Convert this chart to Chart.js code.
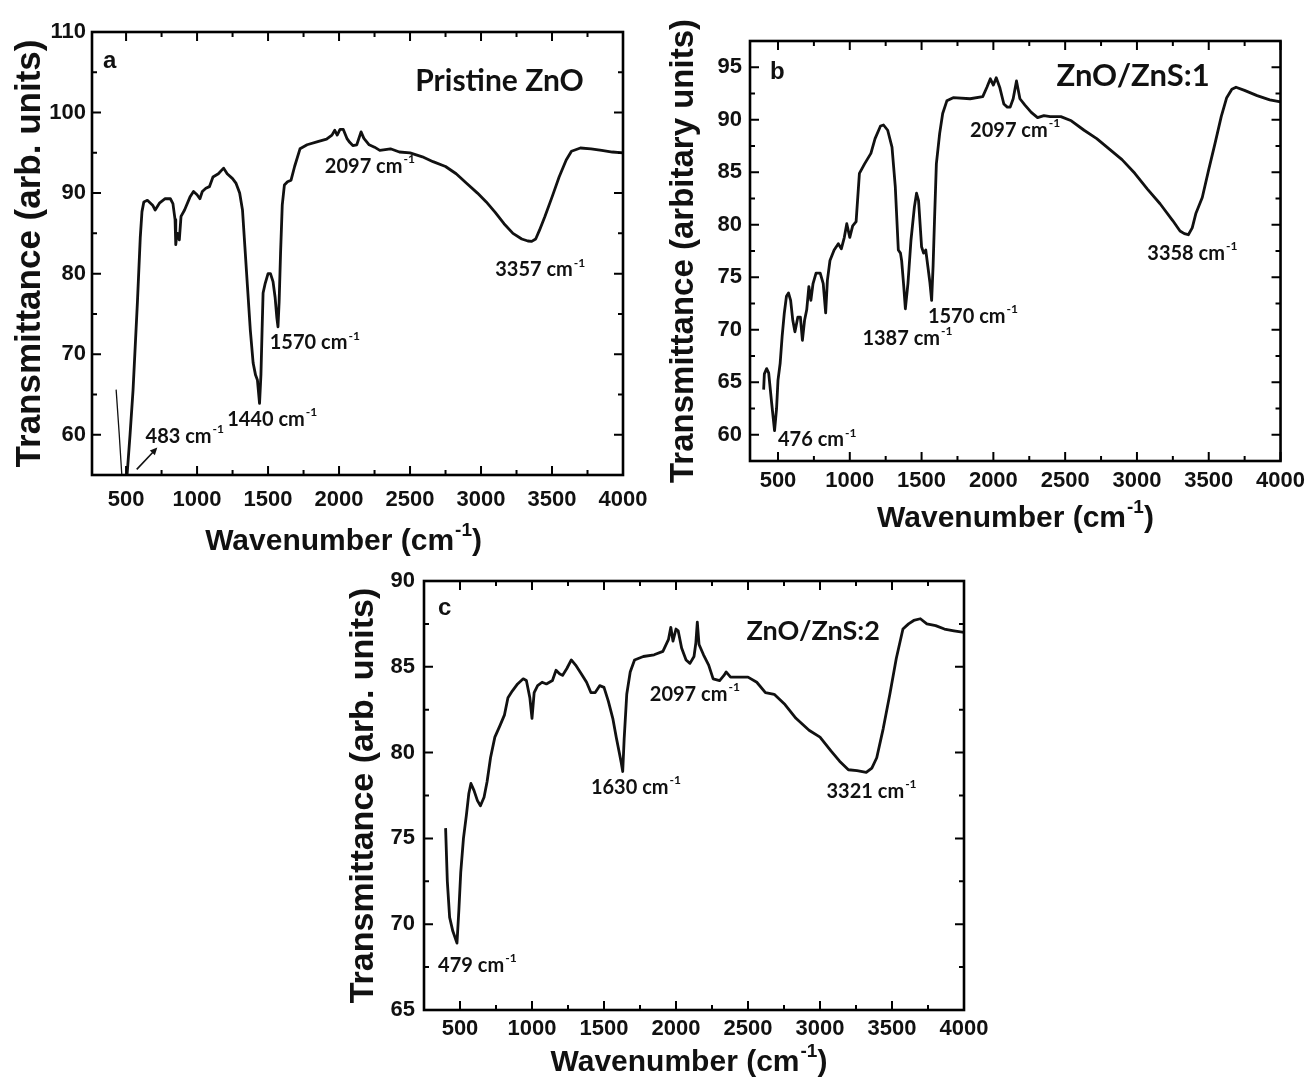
<!DOCTYPE html>
<html>
<head>
<meta charset="utf-8">
<title>FTIR spectra</title>
<script src="https://cdn.jsdelivr.net/npm/chart.js@4.4.1/dist/chart.umd.min.js"></script>
<style>
  html, body { margin: 0; padding: 0; background: #fff; }
  #figure { position: relative; width: 1312px; height: 1082px; overflow: hidden; background: #fff; }
  .panel { position: absolute; }
</style>
</head>
<body>
<div id="figure">
  <div class="panel" style="left:0px;top:0px;width:660px;height:560px"><canvas id="chartA"></canvas></div>
  <div class="panel" style="left:650px;top:0px;width:662px;height:540px"><canvas id="chartB"></canvas></div>
  <div class="panel" style="left:330px;top:550px;width:680px;height:532px"><canvas id="chartC"></canvas></div>
</div>
<script>
// ---- data ----
const X_TICKS = [500, 1000, 1500, 2000, 2500, 3000, 3500, 4000];
const A_Y_TICKS = [60, 70, 80, 90, 100, 110];
const B_Y_TICKS = [60, 65, 70, 75, 80, 85, 90, 95];
const C_Y_TICKS = [65, 70, 75, 80, 85, 90];

// (a) pristine ZnO
const A_WAVENUMBER = [
  430, 452, 470, 483, 497, 507, 528, 549, 580, 600, 612, 625, 650, 687, 705, 737, 775, 812, 830, 845,
  850, 856, 862, 868, 875, 887, 912, 950, 975, 1000, 1020, 1037, 1062, 1087, 1112, 1150, 1187, 1212, 1250, 1275,
  1300, 1320, 1337, 1355, 1375, 1395, 1412, 1425, 1440, 1450, 1458, 1465, 1480, 1500, 1517, 1535, 1550, 1562, 1570, 1578,
  1588, 1600, 1615, 1637, 1662, 1687, 1725, 1775, 1850, 1912, 1950, 1970, 1987, 2007, 2030, 2055, 2075, 2097, 2125, 2155,
  2175, 2212, 2250, 2287, 2325, 2362, 2425, 2500, 2587, 2662, 2750, 2825, 2900, 2975, 3037, 3100, 3162, 3225, 3287, 3330,
  3357, 3385, 3412, 3450, 3500, 3550, 3600, 3637, 3700, 3775, 3850, 3925, 4000
];
const A_TRANSMITTANCE = [
  65.6, 60.0, 55.0, 51.5, 52.8, 55.0, 60.0, 65.5, 76.5, 84.5, 87.7, 88.9, 89.1, 88.5, 87.9, 88.8, 89.3, 89.3, 88.7, 86.7,
  83.6, 84.6, 85.0, 84.6, 84.2, 87.1, 87.9, 89.5, 90.2, 89.8, 89.3, 90.2, 90.6, 90.8, 92.0, 92.4, 93.1, 92.4, 91.8, 91.2,
  90.0, 87.9, 83.3, 78.4, 73.0, 68.9, 67.4, 66.8, 63.9, 67.5, 73.0, 77.6, 78.8, 80.0, 80.0, 79.0, 77.0, 74.5, 73.4, 76.5,
  82.5, 88.5, 91.0, 91.4, 91.6, 93.3, 95.5, 96.0, 96.4, 96.7, 97.2, 97.8, 97.2, 97.9, 97.9, 96.8, 96.3, 95.9, 96.0, 97.6,
  96.8, 96.0, 95.7, 95.3, 95.4, 95.5, 95.1, 95.0, 94.5, 93.9, 93.3, 92.4, 91.2, 90.0, 88.9, 87.6, 86.2, 85.0, 84.3, 84.05,
  84.0, 84.3, 85.4, 87.1, 89.5, 92.0, 94.1, 95.2, 95.6, 95.5, 95.3, 95.1, 95.0
];

// (b) ZnO/ZnS:1
const B_WAVENUMBER = [
  400, 405, 421, 435, 456, 476, 490, 500, 515, 529, 544, 559, 573, 588, 603, 618, 638, 656, 670, 685,
  700, 715, 729, 744, 765, 794, 815, 832, 844, 862, 891, 920, 941, 962, 979, 1000, 1020, 1044, 1067, 1103,
  1147, 1176, 1214, 1235, 1264, 1294, 1317, 1338, 1353, 1361, 1376, 1387, 1405, 1426, 1450, 1465, 1479, 1500, 1514, 1529,
  1544, 1558, 1570, 1580, 1590, 1603, 1626, 1647, 1676, 1720, 1838, 1926, 1955, 1979, 2000, 2020, 2044, 2073, 2097, 2117,
  2138, 2161, 2185, 2220, 2264, 2308, 2352, 2396, 2470, 2543, 2632, 2720, 2808, 2896, 2985, 3073, 3161, 3249, 3300, 3330,
  3358, 3385, 3411, 3455, 3499, 3543, 3587, 3625, 3661, 3690, 3749, 3837, 3925, 4000
];
const B_TRANSMITTANCE = [
  64.3, 65.8, 66.3, 65.9, 63.0, 60.4, 62.5, 65.2, 66.8, 69.4, 71.6, 73.2, 73.5, 72.8, 70.9, 69.8, 71.2, 71.2, 69.0, 70.9,
  71.9, 74.1, 72.8, 74.4, 75.4, 75.4, 74.4, 71.6, 74.7, 76.6, 77.6, 78.2, 77.7, 78.8, 80.1, 78.8, 79.9, 80.3, 84.9, 85.8,
  86.8, 88.2, 89.4, 89.5, 89.0, 87.4, 83.6, 77.6, 77.3, 76.6, 74.1, 72.0, 74.4, 78.5, 81.7, 83.0, 82.3, 77.9, 77.3, 77.6,
  76.0, 74.5, 72.8, 76.0, 80.4, 85.8, 88.7, 90.6, 91.8, 92.1, 92.0, 92.2, 93.1, 93.9, 93.3, 94.0, 93.1, 91.5, 91.2, 91.2,
  92.0, 93.7, 92.0, 91.4, 90.7, 90.2, 90.4, 90.3, 90.3, 89.9, 89.0, 88.2, 87.2, 86.2, 84.9, 83.4, 82.0, 80.4, 79.4, 79.15,
  79.05, 79.7, 81.1, 82.6, 85.2, 87.7, 90.3, 92.1, 92.9, 93.1, 92.8, 92.3, 91.9, 91.7
];

// (c) ZnO/ZnS:2
const C_WAVENUMBER = [
  400, 412, 428, 450, 479, 492, 505, 524, 545, 561, 576, 597, 621, 642, 667, 688, 712, 742, 779, 809,
  833, 864, 900, 939, 961, 985, 1000, 1015, 1039, 1070, 1100, 1121, 1142, 1167, 1191, 1212, 1242, 1273, 1303, 1342,
  1379, 1409, 1439, 1470, 1500, 1530, 1561, 1585, 1606, 1620, 1630, 1640, 1658, 1682, 1712, 1773, 1848, 1909, 1948, 1964,
  1979, 2000, 2015, 2039, 2070, 2097, 2125, 2138, 2148, 2160, 2191, 2227, 2258, 2303, 2333, 2348, 2379, 2439, 2500, 2561,
  2621, 2682, 2757, 2833, 2924, 3000, 3076, 3136, 3197, 3257, 3321, 3360, 3394, 3439, 3485, 3530, 3576, 3615, 3651, 3697,
  3742, 3803, 3864, 3930, 4000
];
const C_TRANSMITTANCE = [
  75.6, 72.5, 70.4, 69.6, 68.9, 70.8, 73.0, 75.0, 76.4, 77.6, 78.2, 77.8, 77.2, 76.9, 77.4, 78.3, 79.7, 80.9, 81.6, 82.2,
  83.2, 83.6, 84.0, 84.3, 84.2, 83.2, 82.0, 83.5, 83.9, 84.1, 84.0, 84.1, 84.2, 84.8, 84.6, 84.5, 84.9, 85.4, 85.1, 84.6,
  84.1, 83.5, 83.5, 83.9, 83.8, 83.0, 82.0, 80.9, 80.0, 79.4, 78.9, 80.8, 83.4, 84.7, 85.4, 85.6, 85.7, 85.9, 86.6, 87.3,
  86.5, 87.2, 87.1, 86.1, 85.4, 85.2, 85.6, 86.4, 87.6, 86.3, 85.7, 85.1, 84.3, 84.2, 84.5, 84.7, 84.4, 84.4, 84.4, 84.1,
  83.5, 83.4, 82.8, 82.0, 81.3, 80.9, 80.1, 79.5, 79.0, 78.95, 78.85, 79.1, 79.7, 81.4, 83.4, 85.5, 87.2, 87.5, 87.7, 87.8,
  87.5, 87.4, 87.2, 87.1, 87.0
];

// ---- styling ----
const AXIS_FAMILY = "'Liberation Sans', Arial, sans-serif";
const NOTE_FAMILY = "Lato, 'Open Sans', sans-serif";
const INK = '#111';

const toPoints = (xs, ys) => xs.map((x, i) => ({ x, y: ys[i] }));
const midpoints = (vals) => vals.slice(1).map((v, i) => (v + vals[i]) / 2);

function drawSupText(ctx, parts, x, y, size, family, align) {
  // parts: [main, sup, tail]
  const [main, sup, tail] = parts;
  const supSize = Math.round(size * 0.62);
  ctx.font = `bold ${size}px ${family}`;
  const w1 = ctx.measureText(main).width;
  const w3 = tail ? ctx.measureText(tail).width : 0;
  ctx.font = `bold ${supSize}px ${family}`;
  const w2 = ctx.measureText(sup).width;
  let left = x;
  if (align === 'center') left = x - (w1 + w2 + w3 + 1) / 2;
  ctx.textAlign = 'left';
  ctx.textBaseline = 'middle';
  ctx.font = `bold ${size}px ${family}`;
  ctx.fillText(main, left, y);
  ctx.font = `bold ${supSize}px ${family}`;
  ctx.fillText(sup, left + w1 + 1, y - size * 0.36);
  if (tail) {
    ctx.font = `bold ${size}px ${family}`;
    ctx.fillText(tail, left + w1 + w2 + 1, y);
  }
}

// inward ticks on all four sides, frame, titles and peak notes
const panelDecor = {
  id: 'panelDecor',
  afterDatasetsDraw(chart, _args, o) {
    const { ctx, chartArea: ca, scales: { x, y } } = chart;
    ctx.save();
    ctx.strokeStyle = '#000';
    ctx.lineWidth = 2;
    ctx.beginPath();
    [[o.xMajor, 9], [o.xMinor, 5]].forEach(([vals, len]) => {
      vals.forEach((v) => {
        const px = x.getPixelForValue(v);
        ctx.moveTo(px, ca.bottom); ctx.lineTo(px, ca.bottom - len);
        ctx.moveTo(px, ca.top); ctx.lineTo(px, ca.top + len);
      });
    });
    [[o.yMajor, 9], [o.yMinor, 5]].forEach(([vals, len]) => {
      vals.forEach((v) => {
        const py = y.getPixelForValue(v);
        ctx.moveTo(ca.left, py); ctx.lineTo(ca.left + len, py);
        ctx.moveTo(ca.right, py); ctx.lineTo(ca.right - len, py);
      });
    });
    ctx.stroke();
    ctx.lineWidth = 2.6;
    ctx.strokeRect(ca.left, ca.top, ca.width, ca.height);
    ctx.restore();
  },
  afterDraw(chart, _args, o) {
    const { ctx, chartArea: ca, scales: { x, y } } = chart;
    ctx.save();
    ctx.fillStyle = INK;
    ctx.strokeStyle = INK;

    // y title
    ctx.save();
    ctx.translate(o.yTitleX, (ca.top + ca.bottom) / 2);
    ctx.rotate(-Math.PI / 2);
    ctx.font = `bold ${o.yTitleSize}px ${AXIS_FAMILY}`;
    ctx.textAlign = 'center';
    ctx.textBaseline = 'middle';
    ctx.fillText(o.yTitle, 0, 0);
    ctx.restore();

    // x title
    drawSupText(ctx, ['Wavenumber (cm', '-1', ')'], x.getPixelForValue(o.xTitleAt),
      ca.bottom + o.xTitleDy, 30, AXIS_FAMILY, 'center');

    // panel letter
    ctx.font = `bold 24px ${AXIS_FAMILY}`;
    ctx.textAlign = 'left';
    ctx.textBaseline = 'middle';
    ctx.fillText(o.letter.text, x.getPixelForValue(o.letter.w), y.getPixelForValue(o.letter.t));

    // sample name
    ctx.font = `bold ${o.sample.size}px ${NOTE_FAMILY}`;
    ctx.fillText(o.sample.text, x.getPixelForValue(o.sample.w), y.getPixelForValue(o.sample.t));

    // peak positions
    o.notes.forEach((n) => {
      drawSupText(ctx, [n.text + ' cm', '-1'], x.getPixelForValue(n.w), y.getPixelForValue(n.t),
        20, NOTE_FAMILY, 'left');
    });

    if (o.arrow) {
      const x1 = x.getPixelForValue(o.arrow.from[0]), y1 = y.getPixelForValue(o.arrow.from[1]);
      const x2 = x.getPixelForValue(o.arrow.to[0]), y2 = y.getPixelForValue(o.arrow.to[1]);
      const ang = Math.atan2(y2 - y1, x2 - x1);
      ctx.lineWidth = 1.6;
      ctx.beginPath();
      ctx.moveTo(x1, y1);
      ctx.lineTo(x2 - 5 * Math.cos(ang), y2 - 5 * Math.sin(ang));
      ctx.stroke();
      ctx.beginPath();
      ctx.moveTo(x2, y2);
      ctx.lineTo(x2 - 8 * Math.cos(ang - 0.45), y2 - 8 * Math.sin(ang - 0.45));
      ctx.lineTo(x2 - 8 * Math.cos(ang + 0.45), y2 - 8 * Math.sin(ang + 0.45));
      ctx.closePath();
      ctx.fill();
    }
    ctx.restore();
  },
};

function makePanel(id, p) {
  return new Chart(document.getElementById(id), {
    type: 'line',
    data: {
      datasets: [{
        data: p.points,
        borderColor: INK,
        borderWidth: 2.8,
        borderJoinStyle: 'round',
        pointRadius: 0,
        tension: 0,
        fill: false,
        segment: p.segment,
      }],
    },
    options: {
      responsive: true,
      maintainAspectRatio: false,
      animation: false,
      events: [],
      layout: { padding: { top: p.padTop, right: p.padRight, left: 0, bottom: 0 } },
      plugins: {
        legend: { display: false },
        tooltip: { enabled: false },
        panelDecor: p.decor,
      },
      scales: {
        x: {
          type: 'linear',
          min: p.xMin,
          max: 4000,
          grid: { display: false, drawTicks: false },
          border: { display: false },
          ticks: {
            font: { family: AXIS_FAMILY, size: 22, weight: 'bold' },
            color: INK,
            padding: p.xPad,
            autoSkip: false,
            maxRotation: 0,
            callback: (v) => String(v),
          },
          afterBuildTicks: (s) => { s.ticks = X_TICKS.map((v) => ({ value: v })); },
          afterFit: (s) => { s.height = p.xAxisH; },
        },
        y: {
          type: 'linear',
          min: p.yMin,
          max: p.yMax,
          grid: { display: false, drawTicks: false },
          border: { display: false },
          ticks: {
            font: { family: AXIS_FAMILY, size: 22, weight: 'bold' },
            color: INK,
            padding: p.yPad,
            autoSkip: false,
            callback: (v) => String(v),
          },
          afterBuildTicks: (s) => { s.ticks = p.yTicks.map((v) => ({ value: v })); },
          afterFit: (s) => { s.width = p.yAxisW; },
        },
      },
    },
    plugins: [panelDecor],
  });
}

makePanel('chartA', {
  points: toPoints(A_WAVENUMBER, A_TRANSMITTANCE),
  // the steep 483 cm-1 flank is drawn with a thinner trace
  segment: { borderWidth: (c) => (c.p0.parsed.x < 483 ? 1.3 : 2.8) },
  xMin: 260, yMin: 55, yMax: 110, yTicks: A_Y_TICKS,
  padTop: 32, padRight: 37, yAxisW: 92, xAxisH: 85, xPad: 12, yPad: 6,
  decor: {
    xMajor: X_TICKS, xMinor: midpoints(X_TICKS),
    yMajor: A_Y_TICKS, yMinor: midpoints(A_Y_TICKS),
    yTitle: 'Transmittance (arb. units)', yTitleSize: 35, yTitleX: 30,
    xTitleAt: 2032, xTitleDy: 67,
    letter: { text: 'a', w: 338, t: 106.4 },
    sample: { text: 'Pristine ZnO', w: 2537, t: 103.9, size: 30 },
    notes: [
      { text: '2097', w: 1900, t: 93.3 },
      { text: '3357', w: 3100, t: 80.45 },
      { text: '1570', w: 1512, t: 71.4 },
      { text: '1440', w: 1212, t: 61.9 },
      { text: '483', w: 637, t: 59.8 },
    ],
    arrow: { from: [575, 55.7], to: [720, 58.4] },
  },
});

makePanel('chartB', {
  points: toPoints(B_WAVENUMBER, B_TRANSMITTANCE),
  xMin: 305, yMin: 57.5, yMax: 97.5, yTicks: B_Y_TICKS,
  padTop: 41, padRight: 29, yAxisW: 100, xAxisH: 79, xPad: 7, yPad: 8,
  decor: {
    xMajor: X_TICKS, xMinor: midpoints(X_TICKS),
    yMajor: B_Y_TICKS, yMinor: midpoints(B_Y_TICKS),
    yTitle: 'Transmittance (arbitary units)', yTitleSize: 33, yTitleX: 34,
    xTitleAt: 2154, xTitleDy: 58,
    letter: { text: 'b', w: 445, t: 94.5 },
    sample: { text: 'ZnO/ZnS:1', w: 2440, t: 94.2, size: 31 },
    notes: [
      { text: '2097', w: 1838, t: 89.0 },
      { text: '3358', w: 3072, t: 77.3 },
      { text: '1570', w: 1544, t: 71.25 },
      { text: '1387', w: 1088, t: 69.2 },
      { text: '476', w: 500, t: 59.5 },
    ],
  },
});

makePanel('chartC', {
  points: toPoints(C_WAVENUMBER, C_TRANSMITTANCE),
  xMin: 250, yMin: 65, yMax: 90, yTicks: C_Y_TICKS,
  padTop: 31, padRight: 46, yAxisW: 94, xAxisH: 72, xPad: 6, yPad: 9,
  decor: {
    xMajor: X_TICKS, xMinor: midpoints(X_TICKS),
    yMajor: C_Y_TICKS, yMinor: midpoints(C_Y_TICKS),
    yTitle: 'Transmittance (arb. units)', yTitleSize: 34, yTitleX: 34,
    xTitleAt: 2090, xTitleDy: 53,
    letter: { text: 'c', w: 347, t: 88.4 },
    sample: { text: 'ZnO/ZnS:2', w: 2490, t: 87.05, size: 27 },
    notes: [
      { text: '2097', w: 1818, t: 83.4 },
      { text: '1630', w: 1409, t: 77.95 },
      { text: '3321', w: 3045, t: 77.75 },
      { text: '479', w: 348, t: 67.6 },
    ],
  },
});
</script>
</body>
</html>
